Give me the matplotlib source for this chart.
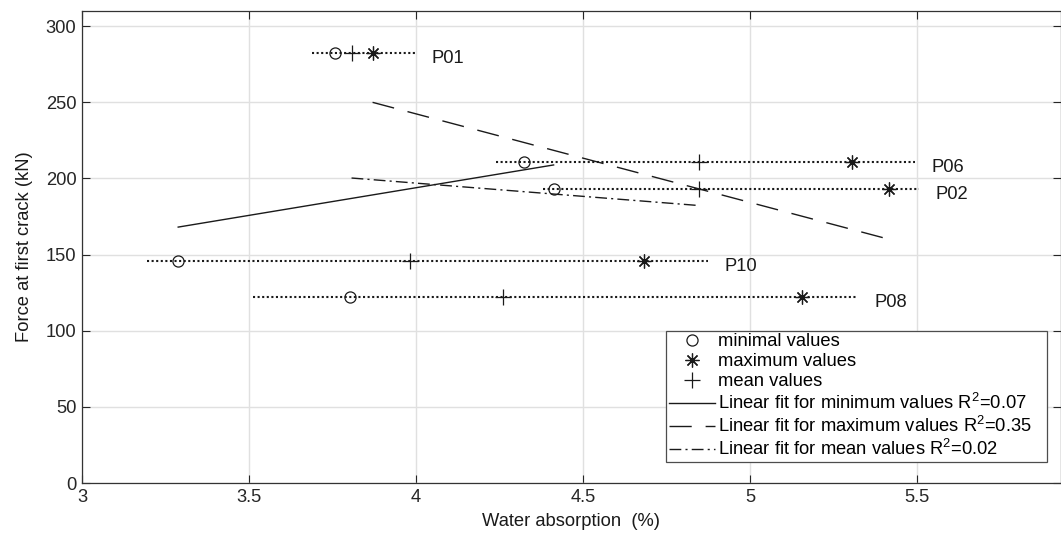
import numpy as np
import matplotlib
matplotlib.use("Agg")
import matplotlib.pyplot as plt

plt.rcParams['font.family'] = ['Liberation Sans', 'DejaVu Sans']
plt.rcParams['mathtext.default'] = 'regular'

# specimens and their force at first crack (kN)
specimens = ['P01', 'P02', 'P06', 'P10', 'P08']
force = [282.7, 193.2, 210.7, 146.0, 121.9]

# water absorption (%) per specimen
wa_min = [3.757, 4.412, 4.324, 3.288, 3.802]
wa_max = [3.870, 5.416, 5.306, 4.684, 5.155]
wa_mean = [3.807, 4.846, 4.846, 3.981, 4.261]

# extent of the dotted range line per specimen
range_lo = [3.689, 4.379, 4.239, 3.194, 3.511]
range_hi = [3.997, 5.506, 5.494, 4.875, 5.322]

r2_labels = ['0.07', '0.35', '0.02']

asterisk = (8, 2, 0)
fs = 13.2

fig = plt.figure(figsize=(10.61, 5.39), dpi=100)
ax = fig.add_axes([82 / 1061, 1 - 483 / 539, 1 - 82 / 1061, (483 - 11) / 539])

for lo, hi, y in zip(range_lo, range_hi, force):
    ax.plot([lo, hi], [y, y], color='0.1', lw=1.5, linestyle=(0, (1, 1.2)))

ax.plot(wa_min, force, 'o', ms=8, mfc='none', mec='0.1', mew=0.9, label='minimal values')
ax.plot(wa_max, force, ls='none', marker=asterisk, ms=10, mec='0.1', mew=0.9, label='maximum values')
ax.plot(wa_mean, force, '+', ms=11, mec='0.1', mew=0.9, label='mean values')

# linear fits of force against absorption
fit_styles = [('-', 'minimum'), ((0, (16, 10)), 'maximum'), ((0, (8.5, 3, 1.5, 3)), 'mean')]
for xs, (ls, name), r2 in zip([wa_min, wa_max, wa_mean], fit_styles, r2_labels):
    xs = np.asarray(xs)
    k, b = np.polyfit(xs, force, 1)
    xx = np.array([xs.min(), xs.max()])
    ax.plot(xx, k * xx + b, color='0.1', lw=1.0, linestyle=ls,
            label=f'Linear fit for {name} values R$^2$=' + r2)

for name, hi, y in zip(specimens, range_hi, force):
    ax.annotate(name, (hi, y), xytext=(12, -4), textcoords='offset points',
                va='center', ha='left', fontsize=fs, color='0.1')

ax.set_xlim(3, 3 + (1061 - 82) / 334)
ax.set_ylim(0, 310)
ax.set_xticks([3, 3.5, 4, 4.5, 5, 5.5])
ax.set_xticklabels(['3', '3.5', '4', '4.5', '5', '5.5'])
ax.set_yticks(np.arange(0, 301, 50))
ax.grid(True, color='0.88', lw=1.0)
ax.set_axisbelow(True)
ax.tick_params(direction='in', length=6, width=0.8, top=True, right=True,
               labelsize=fs, colors='0.15', pad=4)
for s in ax.spines.values():
    s.set_color('0.2')
    s.set_linewidth(0.9)

ax.set_xlabel('Water absorption  (%)', fontsize=fs, color='0.1', labelpad=5)
ax.set_ylabel('Force at first crack (kN)', fontsize=fs, color='0.1', labelpad=9)

leg_w = (1047.7 - 666.7) / 979
leg = ax.legend(loc='upper left', bbox_to_anchor=(0.597, 0.3227 - 0.2, leg_w, 0.2),
                mode='expand', borderaxespad=0,
                fontsize=fs, handlelength=2.5, handletextpad=0.15, labelspacing=0.16,
                borderpad=0.15, fancybox=False, framealpha=1, edgecolor='0.3')
leg.get_frame().set_linewidth(0.9)

fig.savefig('out.png', dpi=100)
